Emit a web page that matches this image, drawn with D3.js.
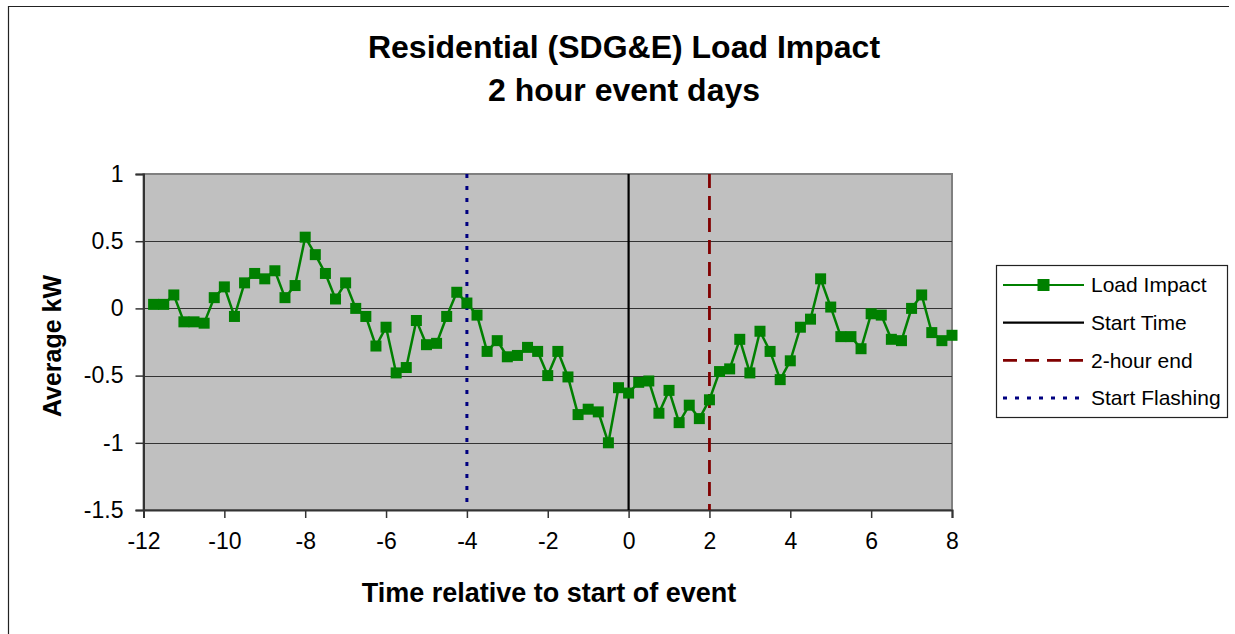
<!DOCTYPE html>
<html>
<head>
<meta charset="utf-8">
<script src="https://cdn.jsdelivr.net/npm/d3@7"></script>
<style>
  body { margin: 0; background: #fff; }
  svg { display: block; font-family: "Liberation Sans", Arial, sans-serif; }
</style>
</head>
<body>
<svg id="chart" width="1235" height="634"></svg>
<script>
// hours relative to event start (15 min steps)
var hours = [-11.75, -11.5, -11.25, -11, -10.75, -10.5, -10.25, -10, -9.75, -9.5,
    -9.25, -9, -8.75, -8.5, -8.25, -8, -7.75, -7.5, -7.25, -7,
    -6.75, -6.5, -6.25, -6, -5.75, -5.5, -5.25, -5, -4.75, -4.5,
    -4.25, -4, -3.75, -3.5, -3.25, -3, -2.75, -2.5, -2.25, -2,
    -1.75, -1.5, -1.25, -1, -0.75, -0.5, -0.25, 0, 0.25, 0.5,
    0.75, 1, 1.25, 1.5, 1.75, 2, 2.25, 2.5, 2.75, 3,
    3.25, 3.5, 3.75, 4, 4.25, 4.5, 4.75, 5, 5.25, 5.5,
    5.75, 6, 6.25, 6.5, 6.75, 7, 7.25, 7.5, 7.75, 8]

// average kW load impact
var loadImpact = [0.03, 0.03, 0.10, -0.10, -0.10, -0.11, 0.08, 0.16, -0.06, 0.19,
    0.26, 0.22, 0.28, 0.08, 0.17, 0.53, 0.40, 0.26, 0.07, 0.19,
    0.00, -0.06, -0.28, -0.14, -0.48, -0.44, -0.09, -0.27, -0.26, -0.06,
    0.12, 0.04, -0.05, -0.32, -0.24, -0.36, -0.35, -0.29, -0.32, -0.50,
    -0.32, -0.51, -0.79, -0.75, -0.77, -1.00, -0.59, -0.63, -0.55, -0.54,
    -0.78, -0.61, -0.85, -0.72, -0.82, -0.68, -0.47, -0.45, -0.23, -0.48,
    -0.17, -0.32, -0.53, -0.39, -0.14, -0.08, 0.22, 0.01, -0.21, -0.21,
    -0.30, -0.04, -0.05, -0.23, -0.24, 0.00, 0.10, -0.18, -0.24, -0.20]

var xTicks = [-12, -10, -8, -6, -4, -2, 0, 2, 4, 6, 8]
var yTicks = [1, 0.5, 0, -0.5, -1, -1.5]
var gridValues = [0.5, 0, -0.5, -1]

var titleLines = ["Residential (SDG&E) Load Impact", "2 hour event days"]
var xTitle = "Time relative to start of event"
var yTitle = "Average kW"

// vertical event markers
var eventNames = ["Start Time", "2-hour end", "Start Flashing"]
var eventHours = [0, 2, -4]

var svg = d3.select("#chart")

var x = d3.scaleLinear().domain([-12, 8]).range([143.5, 952])
var y = d3.scaleLinear().domain([-1.5, 1]).range([510, 174])

// styles for each series
var styles = {
    "Start Time": {color: "#000000", width: 2.2, dash: null},
    "2-hour end": {color: "#800000", width: 2.8, dash: "14,8"},
    "Start Flashing": {color: "#000080", width: 3, dash: "4,8"}
}

// plain hyphen minus like the original
function plain(d) { return String(d) }

// outer chart frame (left + top)
svg.append("path")
    .attr("d", "M8.5,634V6.5H1229")
    .attr("fill", "none")
    .attr("stroke", "#222")
    .attr("stroke-width", 1.2)

// title
svg.selectAll(".title")
    .data(titleLines)
    .enter()
    .append("text")
    .attr("class", "title")
    .attr("x", 624)
    .attr("y", function (d, i) { return 58 + i * 43 })
    .attr("text-anchor", "middle")
    .attr("font-size", "32px")
    .attr("font-weight", "bold")
    .text(function (d) { return d })

// plot background
svg.append("rect")
    .attr("x", x(-12))
    .attr("y", y(1))
    .attr("width", x(8) - x(-12))
    .attr("height", y(-1.5) - y(1))
    .attr("fill", "#c0c0c0")
    .attr("stroke", "#808080")
    .attr("stroke-width", 2)

// gridlines
svg.selectAll(".grid")
    .data(gridValues)
    .enter()
    .append("line")
    .attr("class", "grid")
    .attr("x1", x(-12))
    .attr("x2", x(8))
    .attr("y1", function (d) { return Math.round(y(d)) + 0.5 })
    .attr("y2", function (d) { return Math.round(y(d)) + 0.5 })
    .attr("stroke", "#333")
    .attr("stroke-width", 1.2)

// axes
var xAxis = svg.append("g")
    .attr("transform", "translate(0," + y(-1.5) + ")")
    .call(d3.axisBottom(x).tickValues(xTicks).tickSize(8).tickPadding(9).tickFormat(plain))
var yAxis = svg.append("g")
    .attr("transform", "translate(" + x(-12) + ",0)")
    .call(d3.axisLeft(y).tickValues(yTicks).tickSize(8).tickPadding(12).tickFormat(plain))

;[xAxis, yAxis].forEach(function (g) {
    g.selectAll(".domain").attr("stroke", "#333").attr("stroke-width", 2)
    g.selectAll(".tick line").attr("stroke", "#333").attr("stroke-width", 1.5)
    g.selectAll("text")
        .attr("font-family", "'Liberation Sans', Arial, sans-serif")
        .attr("font-size", "23px")
        .attr("fill", "#000")
})
xAxis.selectAll("text").attr("dy", "0.95em")

// axis titles
svg.append("text")
    .attr("x", 549)
    .attr("y", 602)
    .attr("text-anchor", "middle")
    .attr("font-size", "27px")
    .attr("font-weight", "bold")
    .text(xTitle)
svg.append("text")
    .attr("transform", "translate(61," + 346 + ") rotate(-90)")
    .attr("text-anchor", "middle")
    .attr("font-size", "25px")
    .attr("font-weight", "bold")
    .text(yTitle)

// event lines
svg.selectAll(".event")
    .data(eventNames)
    .enter()
    .append("line")
    .attr("class", "event")
    .attr("x1", function (d, i) { return x(eventHours[i]) })
    .attr("x2", function (d, i) { return x(eventHours[i]) })
    .attr("y1", y(1))
    .attr("y2", y(-1.5))
    .attr("stroke", function (d) { return styles[d].color })
    .attr("stroke-width", function (d) { return styles[d].width })
    .attr("stroke-dasharray", function (d) { return styles[d].dash })

// load impact series
var points = hours.map(function (h, i) { return [h, loadImpact[i]] })
var line = d3.line()
    .x(function (d) { return x(d[0]) })
    .y(function (d) { return y(d[1]) })

svg.append("path")
    .datum(points)
    .attr("d", line)
    .attr("fill", "none")
    .attr("stroke", "#008000")
    .attr("stroke-width", 2.5)

var ms = 11
svg.selectAll(".marker")
    .data(points)
    .enter()
    .append("rect")
    .attr("class", "marker")
    .attr("x", function (d) { return x(d[0]) - ms / 2 })
    .attr("y", function (d) { return y(d[1]) - ms / 2 })
    .attr("width", ms)
    .attr("height", ms)
    .attr("fill", "#008000")

// legend
var legend = svg.append("g")
legend.append("rect")
    .attr("x", 996.5)
    .attr("y", 265.5)
    .attr("width", 231)
    .attr("height", 152)
    .attr("fill", "#fff")
    .attr("stroke", "#222")
    .attr("stroke-width", 1.2)

var legendItems = ["Load Impact"].concat(eventNames)
var rowY = d3.scalePoint().domain(legendItems).range([285, 398])

legendItems.forEach(function (name) {
    var ly = rowY(name)
    var st = styles[name] || {color: "#008000", width: 2, dash: null}
    legend.append("line")
        .attr("x1", 1003)
        .attr("x2", 1084)
        .attr("y1", ly)
        .attr("y2", ly)
        .attr("stroke", st.color)
        .attr("stroke-width", name == "Load Impact" ? 2 : st.width)
        .attr("stroke-dasharray", st.dash)
    if (name == "Load Impact") {
        legend.append("rect")
            .attr("x", 1043.5 - 6)
            .attr("y", ly - 6)
            .attr("width", 12)
            .attr("height", 12)
            .attr("fill", "#008000")
    }
    legend.append("text")
        .attr("x", 1091)
        .attr("y", ly)
        .attr("dy", "0.35em")
        .attr("font-size", "21px")
        .text(name)
})
</script>
</body>
</html>
